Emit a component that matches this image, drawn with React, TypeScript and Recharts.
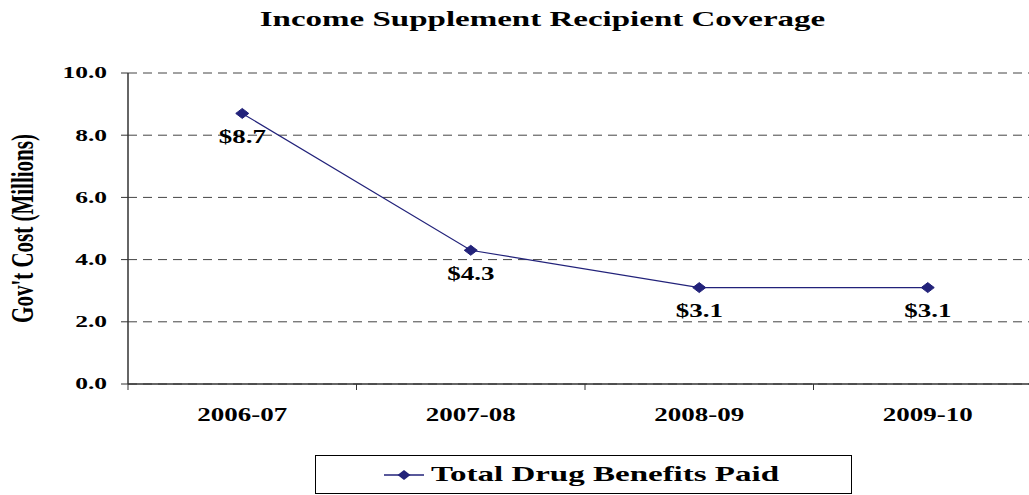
import React from 'react';
import { LineChart, Line, XAxis, YAxis, CartesianGrid, LabelList, Legend } from 'recharts';

const categories = ['2006-07', '2007-08', '2008-09', '2009-10'];
const totalDrugBenefits = [8.7, 4.3, 3.1, 3.1];
const yTicks = [0, 2, 4, 6, 8, 10];
const chartTitle = 'Income Supplement Recipient Coverage';
const yAxisTitle = "Gov't Cost (Millions)";
const seriesName = 'Total Drug Benefits Paid';

const SERIF = "'Liberation Serif', 'Times New Roman', serif";
const LINE_COLOR = '#22227a';
const STRETCH = 1.5;

const data = categories.map((c, i) => ({ pos: i + 0.5, category: c, value: totalDrugBenefits[i] }));
const xTicks: number[] = [];
categories.forEach((_, i) => {
  xTicks.push(i);
  xTicks.push(i + 0.5);
});
xTicks.push(categories.length);

const StretchText = ({ x, y, anchor, size, children }: any) => (
  <text
    transform={`translate(${x},${y}) scale(${STRETCH},1)`}
    textAnchor={anchor}
    dominantBaseline="central"
    fontFamily={SERIF}
    fontWeight="bold"
    fontSize={size}
    fill="#000"
  >
    {children}
  </text>
);

const XTick = (props: any) => {
  const { x, y, payload } = props;
  const v = payload.value as number;
  if (Number.isInteger(v)) {
    return <line x1={x} x2={x} y1={y - 6} y2={y} stroke="#333" strokeWidth={1} />;
  }
  return (
    <StretchText x={x} y={y + 25} anchor="middle" size={18}>
      {categories[Math.floor(v)]}
    </StretchText>
  );
};

const YTick = (props: any) => {
  const { x, y, payload } = props;
  return (
    <StretchText x={x} y={y} anchor="end" size={17}>
      {Number(payload.value).toFixed(1)}
    </StretchText>
  );
};

const GridLine = (props: any) => {
  const { x1, x2, y1, y2, index } = props;
  const isTop = index === 0 && y1 < 100;
  return (
    <line
      x1={x1}
      x2={x2}
      y1={y1}
      y2={y2}
      stroke={isTop ? '#9a9a9a' : '#444'}
      strokeWidth={1}
      strokeDasharray="9 6"
    />
  );
};

const Diamond = (props: any) => {
  const { cx, cy } = props;
  if (cx == null || cy == null) return <g />;
  return (
    <polygon
      points={`${cx},${cy - 5} ${cx + 6.5},${cy} ${cx},${cy + 5} ${cx - 6.5},${cy}`}
      fill={LINE_COLOR}
      stroke={LINE_COLOR}
    />
  );
};

const ValueLabel = (props: any) => {
  const { x, y, value } = props;
  if (x == null || y == null) return null;
  return (
    <StretchText x={x} y={y + 24} anchor="middle" size={18}>
      {`$${Number(value).toFixed(1)}`}
    </StretchText>
  );
};

const LegendBox = () => (
  <div
    style={{
      position: 'relative',
      border: '1px solid #000',
      height: '100%',
      width: '100%',
      boxSizing: 'border-box',
      background: '#fff',
    }}
  >
    <svg width={40} height={14} style={{ position: 'absolute', left: 68, top: 12 }}>
      <line x1={0} x2={40} y1={7} y2={7} stroke={LINE_COLOR} strokeWidth={1.5} />
      <polygon points="20,2 26.5,7 20,12 13.5,7" fill={LINE_COLOR} />
    </svg>
    <span
      style={{
        position: 'absolute',
        left: 115,
        top: 5,
        whiteSpace: 'nowrap',
        fontFamily: SERIF,
        fontWeight: 'bold',
        fontSize: 22,
        lineHeight: '26px',
        color: '#000',
        transform: `scaleX(${STRETCH})`,
        transformOrigin: 'left center',
      }}
    >
      {seriesName}
    </span>
  </div>
);

export default function App() {
  return (
    <div
      style={{
        position: 'absolute',
        left: 0,
        top: 0,
        width: 1029,
        height: 495,
        overflow: 'hidden',
        background: '#fff',
      }}
    >
      <div
        style={{
          position: 'absolute',
          left: 0,
          width: 1086,
          top: 6,
          textAlign: 'center',
          zIndex: 2,
        }}
      >
        <span
          style={{
            display: 'inline-block',
            fontFamily: SERIF,
            fontWeight: 'bold',
            fontSize: 22,
            lineHeight: '26px',
            color: '#000',
            transform: `scaleX(${STRETCH})`,
            whiteSpace: 'nowrap',
          }}
        >
          {chartTitle}
        </span>
      </div>
      <LineChart width={1086} height={495} data={data} margin={{ top: 73, right: 44, left: 10, bottom: 51 }}>
        <CartesianGrid vertical={false} horizontal={<GridLine />} />
        <XAxis
          dataKey="pos"
          type="number"
          domain={[0, categories.length]}
          ticks={xTicks}
          interval={0}
          height={60}
          tickSize={6}
          tickMargin={0}
          tickLine={false}
          axisLine={{ stroke: '#333', strokeWidth: 1.5 }}
          tick={<XTick />}
        />
        <YAxis
          type="number"
          domain={[0, 10]}
          ticks={yTicks}
          interval={0}
          width={118}
          tickSize={7}
          tickMargin={14}
          axisLine={{ stroke: '#333', strokeWidth: 1.5 }}
          tickLine={{ stroke: '#333' }}
          tick={<YTick />}
          label={{
            content: (p: any) => {
              const vb = p.viewBox || { x: 10, y: 73, height: 311 };
              const cx = vb.x + 12;
              const cy = vb.y + vb.height / 2;
              return (
                <text
                  transform={`translate(${cx},${cy}) rotate(-90) scale(1,${STRETCH})`}
                  textAnchor="middle"
                  dominantBaseline="central"
                  fontFamily={SERIF}
                  fontWeight="bold"
                  fontSize={21}
                  fill="#000"
                >
                  {yAxisTitle}
                </text>
              );
            },
          }}
        />
        <Legend
          verticalAlign="middle"
          layout="horizontal"
          wrapperStyle={{ position: 'absolute', left: 315, top: 455, width: 537, height: 39 }}
          content={() => <LegendBox />}
        />
        <Line
          type="linear"
          dataKey="value"
          name={seriesName}
          stroke={LINE_COLOR}
          strokeWidth={1.2}
          dot={<Diamond />}
          activeDot={false}
          isAnimationActive={false}
        >
          <LabelList dataKey="value" content={<ValueLabel />} />
        </Line>
      </LineChart>
    </div>
  );
}
